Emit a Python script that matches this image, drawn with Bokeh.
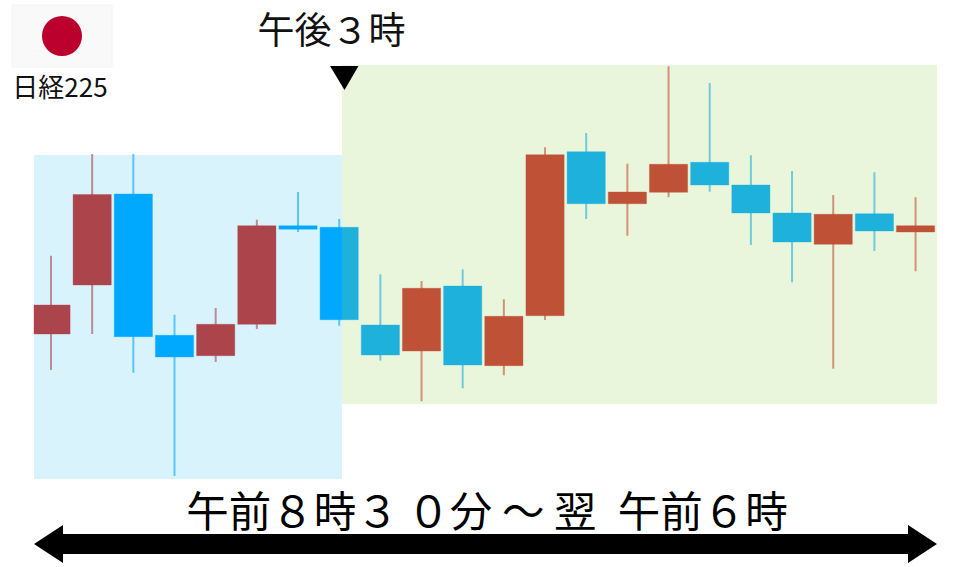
from bokeh.embed import file_html
from bokeh.resources import INLINE
from bokeh.plotting import figure
from bokeh.models import Range1d, ColumnDataSource
from bokeh.core.properties import value

# Candles: levels on the chart's own vertical scale (smaller = higher on the chart)
kind = ["up","up","down","down","up","up","down","down",
        "down","up","down","up","up","down","up","up","down","down","down","up","down","up"]
high = [255.7,154,154,314.7,308,219.7,192,219,
        274.3,281,269.3,299.3,147.3,133,163.7,66.3,83,155.3,171,195,172.3,197.3]
low = [370,334,372.7,476,362,329,232,325.7,
       360.7,401.3,388.3,375.3,320,219,235.7,197.3,191.7,245,282.3,368.7,251,271.3]
body_top = [305,194.5,194,335.3,324.3,225.7,225.7,227.3,
            325,288.3,286,316.3,154.7,151.7,192,164.3,162.3,185,213,214.3,213.7,225.7]
body_bottom = [334,285,336.7,357,355.7,324.3,229.3,319.7,
               355,351,365,365.7,315.7,203.7,203.7,192.3,185,213,242,244.3,231,232]

UP_COLOR = "#CB3230"
DOWN_COLOR = "#00A9FF"
BLUE_OVERLAY = "#00B0F0"
GREEN_OVERLAY = "#92D050"

STEP = 41.17
FIRST = 51.0
def sx(px):
    return (px - FIRST) / STEP

n = len(kind)
xs = list(range(n))
half = 0.464
panel_left = sx(34)
panel_mid = sx(342)
panel_right = sx(937)

colors = [UP_COLOR if k == "up" else DOWN_COLOR for k in kind]
src = ColumnDataSource(dict(
    x=xs, high=high, low=low, top=body_top, bottom=body_bottom, color=colors,
    left=[max(i - half, panel_left) for i in xs],
    right=[i + half for i in xs],
))

p = figure(width=960, height=567, output_backend="svg", toolbar_location=None,
           x_range=Range1d(sx(0.5), sx(960.5)), y_range=Range1d(567.5, 0.5),
           min_border=0, background_fill_color="white", border_fill_color="white",
           outline_line_color=None)
p.styles = {"position": "absolute", "left": "0", "top": "0"}
p.axis.visible = False
p.grid.visible = False

p.segment("x", "high", "x", "low", source=src, color="color", line_width=2, line_alpha=0.6)
p.quad(left="left", right="right", top="top", bottom="bottom", source=src,
       fill_color="color", line_color="color", line_alpha=0.35, line_width=1)

# Session panels laid over the candles
p.quad(left=[panel_left], right=[panel_mid], top=[155], bottom=[479],
       fill_color=BLUE_OVERLAY, fill_alpha=0.15, line_color=None)
p.quad(left=[panel_mid], right=[panel_right], top=[65], bottom=[404],
       fill_color=GREEN_OVERLAY, fill_alpha=0.2, line_color=None)

# Flag
p.quad(left=[sx(12)], right=[sx(112)], top=[5], bottom=[67],
       fill_color="#F9F9F9", line_color="#F2F2F2", line_width=1)
p.scatter(x=[sx(62)], y=[36], size=40, marker="circle", fill_color="#BC002D", line_color=None)

font = value("Noto Sans CJK JP")
p.text(x=[sx(60)], y=[85], text=["日経225"], text_font=font, text_font_size="26px",
       text_align="center", text_baseline="middle", text_color="#111111")
p.text(x=[sx(331.5)], y=[28], text=["午後３時"], text_font=font, text_font_size="37px",
       text_align="center", text_baseline="middle", text_color="#111111")
p.text(x=[sx(487)], y=[508], text=["午前８時３\u2009０分 ～ 翌\u2002午前６時"], text_font=font, text_font_size="42.5px",
       text_align="center", text_baseline="middle", text_color="#000000")

# Pointer
p.patch(x=[sx(330), sx(358.5), sx(344.5)], y=[66, 66, 90], fill_color="black", line_color=None)

# Double arrow
p.patch(x=[sx(34), sx(63), sx(63), sx(908), sx(908), sx(937), sx(908), sx(908), sx(63), sx(63)],
        y=[544, 525, 534, 534, 525, 544, 563, 554, 554, 563],
        fill_color="black", line_color=None)

open("out.html", "w").write(file_html(p, INLINE))
